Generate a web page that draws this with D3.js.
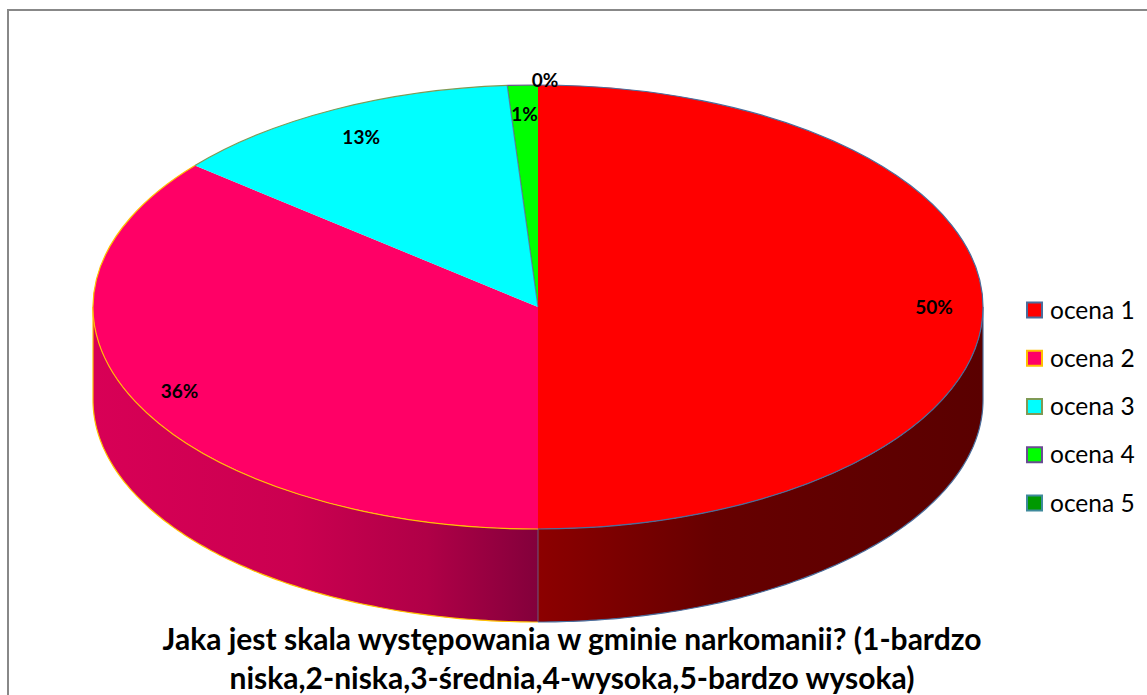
<!DOCTYPE html>
<html>
<head>
<meta charset="utf-8">
<script src="https://cdn.jsdelivr.net/npm/d3@7"></script>
<style>
  html, body { margin: 0; padding: 0; background: #fff; overflow: hidden; }
  text { font-family: Lato, "Open Sans", sans-serif; fill: #000; }
</style>
</head>
<body>
<svg id="chart" width="1147" height="695"></svg>
<script>
const categories = ['ocena 1', 'ocena 2', 'ocena 3', 'ocena 4', 'ocena 5']
const values = [50, 36, 12.9, 1.1, 0]
const labels = ['50%', '36%', '13%', '1%', '0%']
const fills = ['#ff0000', '#ff0066', '#00ffff', '#00ff00', '#009900']
const borders = ['#4a6d9c', '#ffc000', '#7f9a55', '#6a4c93', '#3f8a9c']
const titleLines = [
  'Jaka jest skala występowania w gminie narkomanii? (1-bardzo',
  'niska,2-niska,3-średnia,4-wysoka,5-bardzo wysoka)',
]

const WIDTH = 1147
const HEIGHT = 695
const CX = 538
const CY = 307
const RX = 445
const RY = 222
const DEPTH = 93

// radial position of each label, as a share of the radius
const labelRadius = [0.89, 0.89, 0.86, 0.87, 1.02]
const labelShiftX = [0, 0, -2, 0, 7]

const svg = d3.select('#chart')
const defs = svg.append('defs')

// frame
svg.append('rect')
  .attr('x', 8).attr('y', 10)
  .attr('width', WIDTH).attr('height', HEIGHT)
  .attr('fill', '#fff')
  .attr('stroke', '#888').attr('stroke-width', 2)

const pie = d3.pie().sort(null).value((d) => d)
const arcs = pie(values)

// angle in d3.pie terms (0 at the top, clockwise) to a point of the ellipse
const ellipseX = (a) => CX + RX * Math.sin(a)
const ellipseY = (a) => CY - RY * Math.cos(a)

// side walls: only the front half of the pie is visible
const wallGradients = [
  [['0%', '#8c0000'], ['40%', '#660000'], ['100%', '#5a0000']],
  [['0%', '#d80056'], ['45%', '#cb0050'], ['75%', '#b00047'], ['100%', '#83003b']],
]
const wallBox = [[CX, CX + RX], [CX - RX, CX]]
const wallLine = d3.line()

arcs.slice(0, 2).forEach((d, i) => {
  const grad = defs.append('linearGradient')
    .attr('id', `wall-${i}`)
    .attr('gradientUnits', 'userSpaceOnUse')
    .attr('x1', wallBox[i][0]).attr('x2', wallBox[i][1])
    .attr('y1', 0).attr('y2', 0)
  grad.selectAll('stop').data(wallGradients[i]).join('stop')
    .attr('offset', (s) => s[0])
    .attr('stop-color', (s) => s[1])

  const from = Math.max(d.startAngle, Math.PI / 2)
  const to = Math.min(d.endAngle, (3 * Math.PI) / 2)
  const steps = d3.range(0, 121).map((k) => from + ((to - from) * k) / 120)
  const top = steps.map((a) => [ellipseX(a), ellipseY(a)])
  const bottom = steps.map((a) => [ellipseX(a), ellipseY(a) + DEPTH]).reverse()
  svg.append('path')
    .attr('d', wallLine(top.concat(bottom)) + 'Z')
    .attr('fill', `url(#wall-${i})`)
    .attr('stroke', 'none')
  svg.append('path')
    .attr('d', wallLine(bottom))
    .attr('fill', 'none')
    .attr('stroke', borders[i]).attr('stroke-width', 1.2)
  const sideX = i === 0 ? CX + RX : CX - RX
  svg.append('line')
    .attr('x1', sideX).attr('x2', sideX)
    .attr('y1', CY).attr('y2', CY + DEPTH)
    .attr('stroke', borders[i]).attr('stroke-width', 1.2)
})

// seam between the two walls
svg.append('line')
  .attr('x1', CX).attr('x2', CX)
  .attr('y1', CY + RY).attr('y2', CY + RY + DEPTH)
  .attr('stroke', '#6a5a80').attr('stroke-width', 1)

// top of the pie: a unit arc squashed into an ellipse
const arc = d3.arc().innerRadius(0).outerRadius(1)
const rim = d3.arc().innerRadius(1).outerRadius(1)
const topGroup = svg.append('g')
  .attr('transform', `translate(${CX},${CY}) scale(${RX},${RY})`)
topGroup.selectAll('path.slice')
  .data(arcs)
  .join('path')
  .attr('class', 'slice')
  .attr('d', arc)
  .attr('fill', (d, i) => fills[i])
topGroup.selectAll('path.rim')
  .data(arcs)
  .join('path')
  .attr('class', 'rim')
  .attr('d', rim)
  .attr('fill', 'none')
  .attr('stroke', (d, i) => borders[i])
  .attr('stroke-width', 1.2)
  .attr('vector-effect', 'non-scaling-stroke')

// the only radial edge that shows: left side of the ocena 4 slice
svg.append('line')
  .attr('x1', CX).attr('y1', CY)
  .attr('x2', ellipseX(arcs[3].startAngle)).attr('y2', ellipseY(arcs[3].startAngle))
  .attr('stroke', borders[3]).attr('stroke-opacity', 0.7).attr('stroke-width', 1.2)

// data labels
svg.append('g')
  .selectAll('text')
  .data(arcs)
  .join('text')
  .attr('x', (d, i) => CX + RX * labelRadius[i] * Math.sin((d.startAngle + d.endAngle) / 2) + labelShiftX[i])
  .attr('y', (d, i) => CY - RY * labelRadius[i] * Math.cos((d.startAngle + d.endAngle) / 2))
  .attr('dy', '0.35em')
  .attr('text-anchor', 'middle')
  .attr('font-size', 19)
  .attr('font-weight', 700)
  .text((d, i) => labels[i])

// legend
const legendY = d3.scalePoint().domain(categories).range([310, 503])
const legend = svg.append('g')
  .selectAll('g')
  .data(categories)
  .join('g')
  .attr('transform', (d) => `translate(1027,${legendY(d)})`)
legend.append('rect')
  .attr('x', 0).attr('y', -7.5)
  .attr('width', 15).attr('height', 15)
  .attr('fill', (d, i) => fills[i])
  .attr('stroke', (d, i) => borders[i])
  .attr('stroke-width', 2)
legend.append('text')
  .attr('x', 23).attr('dy', '0.35em')
  .attr('font-size', 24.5)
  .text((d) => d)

// title
svg.append('g')
  .selectAll('text')
  .data(titleLines)
  .join('text')
  .attr('x', 572)
  .attr('y', (d, i) => 650 + i * 39)
  .attr('text-anchor', 'middle')
  .attr('font-size', 30)
  .attr('font-weight', 700)
  .text((d) => d)
</script>
</body>
</html>
